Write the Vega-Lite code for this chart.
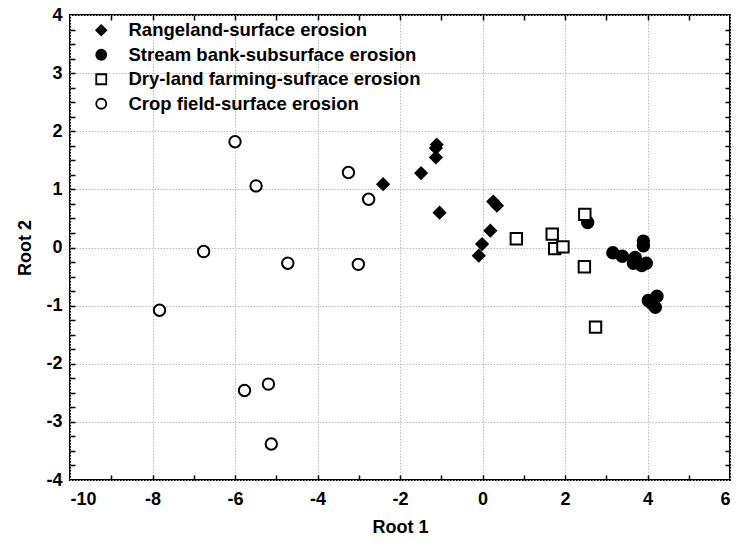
{
  "$schema": "https://vega.github.io/schema/vega-lite/v6.json",
  "autosize": {"type": "none"},
  "padding": {"left": 70, "top": 15, "right": 6, "bottom": 66},
  "width": 660,
  "height": 465,
  "config": {
    "view": {"stroke": "#000000", "strokeWidth": 2}
  },
  "data": {
    "values": [
      {"group": "Rangeland-surface erosion", "r1": -2.41, "r2": 1.09},
      {"group": "Rangeland-surface erosion", "r1": -1.49, "r2": 1.28},
      {"group": "Rangeland-surface erosion", "r1": -1.11, "r2": 1.77},
      {"group": "Rangeland-surface erosion", "r1": -1.13, "r2": 1.71},
      {"group": "Rangeland-surface erosion", "r1": -1.13, "r2": 1.55},
      {"group": "Rangeland-surface erosion", "r1": -1.04, "r2": 0.60},
      {"group": "Rangeland-surface erosion", "r1": 0.26, "r2": 0.79},
      {"group": "Rangeland-surface erosion", "r1": 0.35, "r2": 0.72},
      {"group": "Rangeland-surface erosion", "r1": 0.19, "r2": 0.29},
      {"group": "Rangeland-surface erosion", "r1": -0.01, "r2": 0.06},
      {"group": "Rangeland-surface erosion", "r1": -0.09, "r2": -0.14},
      {"group": "Stream bank-subsurface erosion", "r1": 2.55, "r2": 0.43},
      {"group": "Stream bank-subsurface erosion", "r1": 3.16, "r2": -0.09},
      {"group": "Stream bank-subsurface erosion", "r1": 3.39, "r2": -0.15},
      {"group": "Stream bank-subsurface erosion", "r1": 3.90, "r2": 0.11},
      {"group": "Stream bank-subsurface erosion", "r1": 3.90, "r2": 0.03},
      {"group": "Stream bank-subsurface erosion", "r1": 3.70, "r2": -0.17},
      {"group": "Stream bank-subsurface erosion", "r1": 3.74, "r2": -0.25},
      {"group": "Stream bank-subsurface erosion", "r1": 3.66, "r2": -0.27},
      {"group": "Stream bank-subsurface erosion", "r1": 3.86, "r2": -0.31},
      {"group": "Stream bank-subsurface erosion", "r1": 3.97, "r2": -0.27},
      {"group": "Stream bank-subsurface erosion", "r1": 4.02, "r2": -0.91},
      {"group": "Stream bank-subsurface erosion", "r1": 4.23, "r2": -0.84},
      {"group": "Stream bank-subsurface erosion", "r1": 4.19, "r2": -1.03},
      {"group": "Stream bank-subsurface erosion", "r1": 4.10, "r2": -0.96},
      {"group": "Dry-land farming-sufrace erosion", "r1": 0.82, "r2": 0.15},
      {"group": "Dry-land farming-sufrace erosion", "r1": 1.69, "r2": 0.23},
      {"group": "Dry-land farming-sufrace erosion", "r1": 1.75, "r2": -0.02},
      {"group": "Dry-land farming-sufrace erosion", "r1": 1.95, "r2": 0.01},
      {"group": "Dry-land farming-sufrace erosion", "r1": 2.48, "r2": 0.57},
      {"group": "Dry-land farming-sufrace erosion", "r1": 2.47, "r2": -0.33},
      {"group": "Dry-land farming-sufrace erosion", "r1": 2.74, "r2": -1.37},
      {"group": "Crop field-surface erosion", "r1": -6.00, "r2": 1.82},
      {"group": "Crop field-surface erosion", "r1": -5.49, "r2": 1.06},
      {"group": "Crop field-surface erosion", "r1": -3.25, "r2": 1.29},
      {"group": "Crop field-surface erosion", "r1": -2.76, "r2": 0.83},
      {"group": "Crop field-surface erosion", "r1": -6.76, "r2": -0.07},
      {"group": "Crop field-surface erosion", "r1": -4.72, "r2": -0.27},
      {"group": "Crop field-surface erosion", "r1": -3.01, "r2": -0.29},
      {"group": "Crop field-surface erosion", "r1": -7.83, "r2": -1.08},
      {"group": "Crop field-surface erosion", "r1": -5.77, "r2": -2.46},
      {"group": "Crop field-surface erosion", "r1": -5.19, "r2": -2.35},
      {"group": "Crop field-surface erosion", "r1": -5.12, "r2": -3.38}
    ]
  },
  "resolve": {"axis": {"x": "independent", "y": "independent"}},
  "layer": [
    {
      "mark": {"type": "point", "opacity": 0},
      "encoding": {
        "x": {"field": "r1", "type": "quantitative", "scale": {"domain": [-10, 6], "nice": false, "zero": false},
          "axis": {"orient": "top", "offset": -5, "domain": false, "values": [-9, -8, -7, -6, -5, -4, -3, -2, -1, 0, 1, 2, 3, 4, 5], "labels": false, "grid": false, "title": null, "ticks": true, "tickSize": 5, "tickWidth": 1.5, "tickColor": "#000"}},
        "y": {"field": "r2", "type": "quantitative", "scale": {"domain": [-4, 4], "nice": false, "zero": false},
          "axis": {"orient": "right", "offset": -5, "domain": false, "values": [-3.75, -3.5, -3.25, -3, -2.75, -2.5, -2.25, -2, -1.75, -1.5, -1.25, -1, -0.75, -0.5, -0.25, 0, 0.25, 0.5, 0.75, 1, 1.25, 1.5, 1.75, 2, 2.25, 2.5, 2.75, 3, 3.25, 3.5, 3.75], "labels": false, "grid": false, "title": null, "ticks": true, "tickSize": 5, "tickWidth": 1.5, "tickColor": "#000"}}
      }
    },
    {
      "mark": {"type": "point", "opacity": 0},
      "encoding": {
        "x": {"field": "r1", "type": "quantitative",
          "axis": {"orient": "bottom", "offset": -5, "domain": false, "values": [-9, -8, -7, -6, -5, -4, -3, -2, -1, 0, 1, 2, 3, 4, 5], "labels": false, "grid": false, "title": null, "ticks": true, "tickSize": 5, "tickWidth": 1.5, "tickColor": "#000"}},
        "y": {"field": "r2", "type": "quantitative",
          "axis": {"orient": "left", "offset": -5, "domain": false, "values": [-3.75, -3.5, -3.25, -3, -2.75, -2.5, -2.25, -2, -1.75, -1.5, -1.25, -1, -0.75, -0.5, -0.25, 0, 0.25, 0.5, 0.75, 1, 1.25, 1.5, 1.75, 2, 2.25, 2.5, 2.75, 3, 3.25, 3.5, 3.75], "labels": false, "grid": false, "title": null, "ticks": true, "tickSize": 5, "tickWidth": 1.5, "tickColor": "#000"}}
      }
    },
    {
      "mark": {"type": "point", "filled": true, "strokeWidth": 2, "size": 130, "opacity": 1},
      "encoding": {
        "x": {"field": "r1", "type": "quantitative",
          "axis": {"orient": "bottom", "domain": false, "values": [-10, -8, -6, -4, -2, 0, 2, 4, 6], "labelExpr": "'' + datum.value", "ticks": false, "grid": true, "gridColor": "#bdbdbd", "gridDash": [1.5, 1.5], "gridWidth": 1, "labelFont": "Liberation Sans", "labelColor": "#000", "labelFontSize": 18, "labelFontWeight": "bold", "labelPadding": 10, "title": "Root 1", "titleFont": "Liberation Sans", "titleColor": "#000", "titleFontSize": 18, "titleFontWeight": "bold", "titlePadding": 10}},
        "y": {"field": "r2", "type": "quantitative",
          "axis": {"orient": "left", "domain": false, "values": [-4, -3, -2, -1, 0, 1, 2, 3, 4], "labelExpr": "'' + datum.value", "ticks": false, "grid": true, "gridColor": "#bdbdbd", "gridDash": [1.5, 1.5], "gridWidth": 1, "labelFont": "Liberation Sans", "labelColor": "#000", "labelFontSize": 18, "labelFontWeight": "bold", "labelPadding": 8, "title": "Root 2", "titleFont": "Liberation Sans", "titleColor": "#000", "titleFontSize": 18, "titleFontWeight": "bold", "titlePadding": 11}},
        "shape": {"field": "group", "type": "nominal",
          "scale": {"domain": ["Rangeland-surface erosion", "Stream bank-subsurface erosion", "Dry-land farming-sufrace erosion", "Crop field-surface erosion"], "range": ["diamond", "circle", "square", "circle"]},
          "legend": {"orient": "none", "legendX": 22, "legendY": 6, "title": null, "labelFontSize": 18.5, "labelFontWeight": "bold", "labelFont": "Liberation Sans", "labelColor": "#000", "labelLimit": 0, "symbolSize": 100, "symbolStrokeWidth": 1.8, "labelOffset": 18, "rowPadding": 5.5, "padding": 0}},
        "fill": {"field": "group", "type": "nominal",
          "scale": {"domain": ["Rangeland-surface erosion", "Stream bank-subsurface erosion", "Dry-land farming-sufrace erosion", "Crop field-surface erosion"], "range": ["#000000", "#000000", "#ffffff", "#ffffff"]},
          "legend": {"orient": "none", "legendX": 22, "legendY": 6, "title": null, "labelFontSize": 18.5, "labelFontWeight": "bold", "labelFont": "Liberation Sans", "labelColor": "#000", "labelLimit": 0, "symbolSize": 100, "symbolStrokeWidth": 1.8, "labelOffset": 18, "rowPadding": 5.5, "padding": 0}},
        "stroke": {"field": "group", "type": "nominal",
          "scale": {"domain": ["Rangeland-surface erosion", "Stream bank-subsurface erosion", "Dry-land farming-sufrace erosion", "Crop field-surface erosion"], "range": ["#000000", "#000000", "#000000", "#000000"]},
          "legend": {"orient": "none", "legendX": 22, "legendY": 6, "title": null, "labelFontSize": 18.5, "labelFontWeight": "bold", "labelFont": "Liberation Sans", "labelColor": "#000", "labelLimit": 0, "symbolSize": 100, "symbolStrokeWidth": 1.8, "labelOffset": 18, "rowPadding": 5.5, "padding": 0}}
      }
    }
  ]
}
